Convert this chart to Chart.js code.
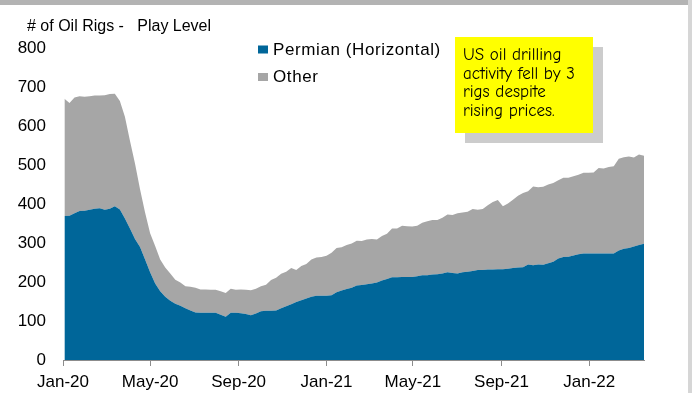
<!DOCTYPE html>
<html>
<head>
<meta charset="utf-8">
<title># of Oil Rigs - Play Level</title>
<style>
  html, body { margin: 0; padding: 0; background: #ffffff; }
  canvas { display: block; }
</style>
<script src="https://cdn.jsdelivr.net/npm/chart.js@4.4.1/dist/chart.umd.min.js"></script>
</head>
<body>
<canvas id="rigs" width="692" height="393"></canvas>
<script>
// Weekly rig counts, first Friday of 2020 through mid-March 2022
const firstWeek = '2020-01-03';
const axisStart = '2020-01-01';
const axisEnd = '2022-03-18';

const tickDates = ['2020-01-01', '2020-05-01', '2020-09-01', '2021-01-01', '2021-05-01', '2021-09-01', '2022-01-01'];
const tickLabels = ['Jan-20', 'May-20', 'Sep-20', 'Jan-21', 'May-21', 'Sep-21', 'Jan-22'];
const yTicks = [0, 100, 200, 300, 400, 500, 600, 700, 800];

const seriesNames = ['Permian (Horizontal)', 'Other'];

const permianRigs = [
  369, 370, 376, 382, 383, 385, 388, 389, 385, 388, 394, 386, 363, 337, 310, 290, 258, 225, 196, 176,
  162, 152, 144, 139, 133, 127, 122, 121, 121, 121, 121, 116, 111, 121, 121, 120, 118, 115, 119, 125,
  126, 126, 127, 133, 138, 143, 149, 153, 158, 162, 165, 165, 165, 166, 174, 178, 182, 185, 191, 192,
  194, 196, 199, 204, 208, 212, 212, 213, 213, 213, 215, 217, 217, 219, 220, 222, 225, 223, 222, 225,
  226, 228, 231, 231, 232, 232, 233, 233, 234, 236, 237, 238, 245, 243, 245, 244, 248, 252, 260, 264,
  265, 268, 271, 273, 273, 273, 273, 273, 273, 273, 281, 285, 287, 291, 295, 298
];

const otherRigs = [
  301, 289, 297, 294, 292, 291, 290, 289, 294, 294, 289, 278, 261, 225, 194, 148, 120, 100, 96, 82,
  75, 70, 62, 60, 56, 61, 63, 60, 60, 59, 59, 60, 61, 62, 59, 61, 62, 64, 64, 64,
  67, 79, 84, 88, 88, 93, 82, 88, 88, 96, 98, 99, 102, 109, 113, 111, 113, 114, 115, 113,
  115, 114, 110, 114, 116, 125, 125, 131, 130, 129, 129, 135, 139, 140, 139, 143, 148, 149, 154, 153,
  154, 159, 154, 156, 165, 173, 177, 161, 167, 175, 184, 190, 188, 202, 198, 200, 202, 202, 201, 203,
  202, 203, 204, 207, 207, 208, 219, 218, 222, 224, 235, 235, 235, 228, 232, 226
];

const titleText = '# of Oil Rigs -   Play Level';
const noteLines = ['US oil drilling', 'activity fell by 3', 'rigs despite', 'rising prices.'];

const seriesColors = ['#006699', '#a6a6a6'];
const labelFont = "'Liberation Sans', Arial, Helvetica, sans-serif";
const noteFont = "'Comic Sans MS', 'Comic Neue', 'Noto Sans', sans-serif";

// days elapsed since the start of the axis
const DAY = 86400000;
const dayOf = s => Math.round((Date.parse(s) - Date.parse(axisStart)) / DAY);
const firstDay = dayOf(firstWeek);
const tickDays = tickDates.map(dayOf);

const toPoints = arr => arr.map((v, i) => ({ x: firstDay + 7 * i, y: v }));

// Title, legend, callout box and frame drawn on the same canvas
const decorations = {
  id: 'decorations',
  beforeDraw(chart) {
    const ctx = chart.ctx;
    ctx.save();
    ctx.fillStyle = '#ffffff';
    ctx.fillRect(0, 0, chart.width, chart.height);
    ctx.restore();
  },
  afterDraw(chart) {
    const ctx = chart.ctx;
    ctx.save();

    // frame: grey strip along the top, thin rule on the right
    ctx.fillStyle = '#b3b3b3';
    ctx.fillRect(0, 0, 688, 5);
    ctx.fillStyle = '#d6d6d6';
    ctx.fillRect(688, 0, 4, chart.height);

    // title
    ctx.fillStyle = '#000000';
    ctx.font = '16px ' + labelFont;
    ctx.textBaseline = 'alphabetic';
    ctx.textAlign = 'left';
    ctx.fillText(titleText, 27, 31);

    // legend
    const rows = [49.5, 77];
    chart.data.datasets.forEach((ds, i) => {
      ctx.fillStyle = ds.backgroundColor;
      ctx.fillRect(258, rows[i] - 4, 10, 8);
      ctx.fillStyle = '#000000';
      ctx.font = '17px ' + labelFont;
      ctx.letterSpacing = '0.6px';
      ctx.textBaseline = 'middle';
      ctx.fillText(ds.label, 273, rows[i] + 0.5);
    });
    ctx.letterSpacing = '0px';

    // callout with drop shadow
    ctx.fillStyle = '#cccccc';
    ctx.fillRect(465, 47, 138, 96);
    ctx.fillStyle = '#ffff00';
    ctx.fillRect(455, 37, 138, 96);
    ctx.fillStyle = '#000000';
    ctx.font = '17px ' + noteFont;
    ctx.textBaseline = 'alphabetic';
    noteLines.forEach((line, i) => {
      ctx.fillText(line, 463, 60 + i * 18.5);
    });

    ctx.restore();
  }
};

new Chart(document.getElementById('rigs'), {
  type: 'line',
  data: {
    datasets: [
      {
        label: seriesNames[0],
        data: toPoints(permianRigs),
        backgroundColor: seriesColors[0],
        borderColor: seriesColors[0],
        borderWidth: 0,
        fill: 'origin',
        pointRadius: 0,
        tension: 0
      },
      {
        label: seriesNames[1],
        data: toPoints(otherRigs),
        backgroundColor: seriesColors[1],
        borderColor: seriesColors[1],
        borderWidth: 0,
        fill: '-1',
        pointRadius: 0,
        tension: 0
      }
    ]
  },
  options: {
    responsive: false,
    animation: false,
    devicePixelRatio: 1,
    layout: { padding: { top: 48, right: 48, bottom: 0, left: 0 } },
    plugins: {
      legend: { display: false },
      title: { display: false },
      tooltip: { enabled: false }
    },
    scales: {
      x: {
        type: 'linear',
        min: 0,
        max: dayOf(axisEnd),
        afterBuildTicks: s => { s.ticks = tickDays.map(v => ({ value: v })); },
        afterFit: s => { s.height = 33; },
        ticks: {
          autoSkip: false,
          maxRotation: 0,
          padding: 6,
          color: '#000000',
          font: { family: labelFont, size: 17 },
          callback: v => {
            const i = tickDays.indexOf(v);
            return i >= 0 ? tickLabels[i] : '';
          }
        },
        grid: { display: true, drawOnChartArea: false, drawTicks: true, tickLength: 6, color: '#8c8c8c', lineWidth: 1 },
        border: { display: true, color: '#8c8c8c', width: 1 }
      },
      y: {
        stacked: true,
        min: 0,
        max: 800,
        afterBuildTicks: s => { s.ticks = yTicks.map(v => ({ value: v })); },
        afterFit: s => { s.width = 63; },
        ticks: {
          padding: 17,
          color: '#000000',
          font: { family: labelFont, size: 17 }
        },
        grid: { display: false, drawTicks: false, tickLength: 0 },
        border: { display: false }
      }
    }
  },
  plugins: [decorations]
});
</script>
</body>
</html>
